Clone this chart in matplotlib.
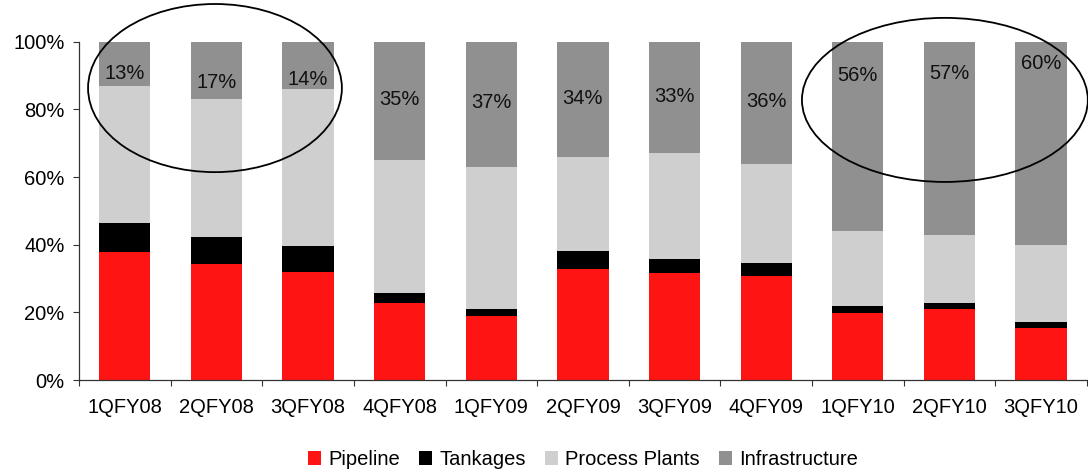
import matplotlib.pyplot as plt
from matplotlib.patches import Ellipse
from matplotlib.ticker import FuncFormatter
import numpy as np

plt.rcParams['font.family'] = ['Liberation Sans', 'DejaVu Sans']

quarters = ['1QFY08', '2QFY08', '3QFY08', '4QFY08', '1QFY09', '2QFY09',
            '3QFY09', '4QFY09', '1QFY10', '2QFY10', '3QFY10']
pipeline = [37.9, 34.3, 31.9, 22.8, 18.9, 32.8, 31.6, 30.7, 19.8, 21.0, 15.4]
tankages = [8.6, 8.0, 7.7, 2.9, 2.1, 5.4, 4.1, 3.8, 2.0, 1.8, 1.7]
infrastructure = [13, 17, 14, 35, 37, 34, 33, 36, 56, 57, 60]
# process plants make up the rest of each quarter
process_plants = [100 - p - t - i for p, t, i in zip(pipeline, tankages, infrastructure)]

# vertical placement of the infrastructure share labels
label_y = [90.5, 88, 88.7, 82.8, 82, 83.3, 83.7, 82.3, 90, 90.6, 93.6]

x = np.arange(len(quarters))
w = 0.56
fs = 14.5

fig = plt.figure(figsize=(10.88, 4.73), dpi=100)
ax = fig.add_axes([0.0726, 0.1966, 0.9264, 0.7152])

b1 = ax.bar(x, pipeline, w, color='#ff1414', label='Pipeline')
b2 = ax.bar(x, tankages, w, bottom=pipeline, color='#000000', label='Tankages')
base = np.array(pipeline) + np.array(tankages)
b3 = ax.bar(x, process_plants, w, bottom=base, color='#cfcfcf', label='Process Plants')
base = base + np.array(process_plants)
b4 = ax.bar(x, infrastructure, w, bottom=base, color='#909090', label='Infrastructure')

for xi, v, ly in zip(x, infrastructure, label_y):
    ax.text(xi, ly, '%d%%' % v, ha='center', va='center', fontsize=fs, color='#111111')

# highlight circles
ax.add_patch(Ellipse((0.984, 86.3), 2.77, 49.7, fill=False, lw=1.3, ec='black', clip_on=False))
ax.add_patch(Ellipse((8.95, 82.8), 3.12, 48.5, fill=False, lw=1.3, ec='black', clip_on=False))

ax.set_xlim(-0.5, len(quarters) - 0.5)
ax.set_ylim(0, 100)
ax.set_yticks(np.arange(0, 101, 20))
ax.yaxis.set_major_formatter(FuncFormatter(lambda v, p: '%d%%' % v))

ax.set_xticks(np.arange(-0.5, len(quarters), 1))
ax.set_xticklabels([])
ax.set_xticks(x, minor=True)
ax.set_xticklabels(quarters, minor=True)
ax.tick_params(axis='x', which='major', length=4.5, direction='out', color='#333333')
ax.tick_params(axis='x', which='minor', length=0, pad=13, labelsize=fs)
ax.tick_params(axis='y', length=4.5, direction='out', pad=6, labelsize=fs, color='#333333')

for s in ['top', 'right']:
    ax.spines[s].set_visible(False)
for s in ['left', 'bottom']:
    ax.spines[s].set_color('#333333')
    ax.spines[s].set_linewidth(0.9)

fig.legend(handles=[b1, b2, b3, b4], loc='center', bbox_to_anchor=(0.536, 0.028),
           ncol=4, frameon=False, fontsize=fs, handlelength=0.65, handleheight=0.65,
           handletextpad=0.35, columnspacing=0.95, borderaxespad=0)

fig.savefig('out.png', dpi=100)
